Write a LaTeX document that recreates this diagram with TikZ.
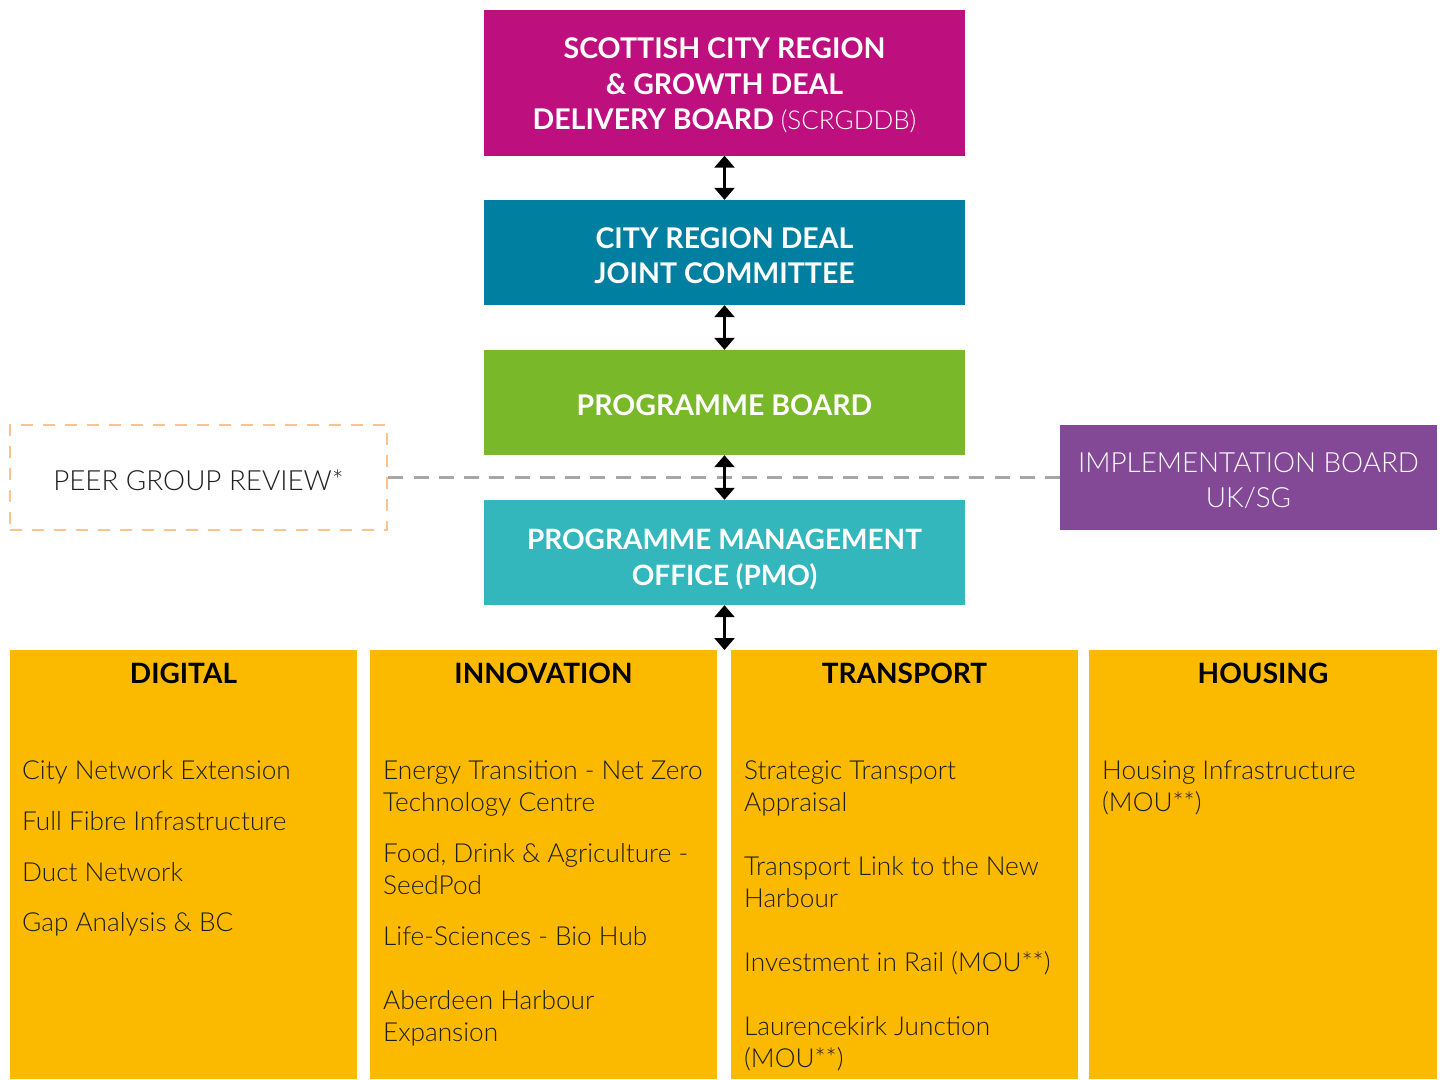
\documentclass[tikz,border=0pt]{standalone}
\usepackage{fontspec}
\setmainfont{Lato}
\IfFontExistsTF{Lato Light}{\newfontfamily\lightf{Lato Light}}{\newfontfamily\lightf{Lato}}
\usetikzlibrary{arrows.meta}
\definecolor{cMag}{HTML}{BD107E}
\definecolor{cTeal}{HTML}{007FA0}
\definecolor{cGreen}{HTML}{79B829}
\definecolor{cCyan}{HTML}{33B7BC}
\definecolor{cPurple}{HTML}{834996}
\definecolor{cYellow}{HTML}{FBB900}
\definecolor{cPeer}{HTML}{FDC28E}
\definecolor{cDash}{HTML}{A6A6A6}
\definecolor{cText}{HTML}{1E1E1E}
\begin{document}
\begin{tikzpicture}[x=1pt,y=-1pt,
  box/.style={inner sep=0pt, minimum width=481pt, minimum height=105pt},
  boxtext/.style={inner sep=0pt, align=center, text=white, font=\fontsize{28.5}{35.5}\selectfont\bfseries},
  sidebox/.style={inner sep=0pt, minimum width=377pt, minimum height=105pt},
  sidetext/.style={inner sep=0pt, align=center, font=\fontsize{27.8}{35}\selectfont\lightf},
  areabox/.style={inner sep=0pt, minimum height=429pt, fill=cYellow},
  head/.style={anchor=base, inner sep=0pt, text=black, font=\fontsize{28}{32}\selectfont\bfseries},
  item/.style={anchor=base west, inner sep=0pt, text=cText, font=\fontsize{26.2}{32}\selectfont\lightf},
  dbl/.style={line width=2.6pt, black, {Triangle[width=20pt,length=12pt]}-{Triangle[width=20pt,length=12pt]}},
  link/.style={line width=2.5pt, cDash, dash pattern=on 15pt off 10.27pt}
]
\useasboundingbox (0,0) rectangle (1443,1079);

% top column
\node[box, fill=cMag, minimum height=146pt] (scr) at (724.5,82.5) {};
\node[boxtext] (scrt) at ([yshift=-3pt]scr.center)
  {SCOTTISH CITY REGION\\\& GROWTH DEAL\\DELIVERY BOARD {\fontsize{26}{35.5}\selectfont\lightf\mdseries (SCRGDDB)}};
\node[box, fill=cTeal] (crd) at (724.5,252.5) {};
\node[boxtext] (crdt) at ([yshift=-3pt]crd.center) {CITY REGION DEAL\\JOINT COMMITTEE};
\node[box, fill=cGreen] (pb) at (724.5,402.5) {};
\node[boxtext] (pbt) at ([yshift=-3pt]pb.center) {PROGRAMME BOARD};
\node[box, fill=cCyan] (pmo) at (724.5,552.5) {};
\node[boxtext, font=\fontsize{28}{35.5}\selectfont\bfseries] (pmot) at ([yshift=-7pt]pmo.center) {PROGRAMME MANAGEMENT\\OFFICE (PMO)};

% side boxes
\node[sidebox, draw=cPeer, line width=2.5pt, dash pattern=on 12pt off 10pt] (peer) at (198.5,477.5) {};
\node[sidetext, text=cText] (peert) at ([yshift=-3pt]peer.center) {PEER GROUP REVIEW*};
\node[sidebox, fill=cPurple] (impl) at (1248.5,477.5) {};
\node[sidetext, text=white] (implt) at ([yshift=-3pt]impl.center) {IMPLEMENTATION BOARD\\UK/SG};

\draw[link] (peer.east) -- (impl.west);

% bottom area boxes
\node[areabox, minimum width=347pt] (dig) at (183.5,864.5) {};
\node[areabox, minimum width=347pt] (inn) at (543.5,864.5) {};
\node[areabox, minimum width=347pt] (tra) at (904.5,864.5) {};
\node[areabox, minimum width=348pt] (hou) at (1263,864.5) {};
\coordinate (areatop) at (724.5,650);

% arrows
\draw[dbl] (scr.south) -- (crd.north);
\draw[dbl] (crd.south) -- (pb.north);
\draw[dbl] (pb.south) -- (pmo.north);
\draw[dbl] (pmo.south) -- (areatop);

% headings
\node[head] (hdig) at (183.5,683) {DIGITAL};
\node[head] (hinn) at (543.5,683) {INNOVATION};
\node[head] (htra) at (904.5,683) {TRANSPORT};
\node[head] (hhou) at (1263,683) {HOUSING};

% items
\foreach \t/\yy [count=\i] in {{City Network Extension}/779, {Full Fibre Infrastructure}/830, {Duct Network}/881, {Gap Analysis \& BC}/931}
  \node[item, name=dig\i] at (22,\yy) {\t};
\foreach \t/\yy [count=\i] in {{Energy Transition - Net Zero}/779, {Technology Centre}/811, {Food, Drink \& Agriculture -}/862, {SeedPod}/894, {Life-Sciences - Bio Hub}/945, {Aberdeen Harbour}/1009, {Expansion}/1041}
  \node[item, name=inn\i] at (383,\yy) {\t};
\foreach \t/\yy [count=\i] in {{Strategic Transport}/779, {Appraisal}/811, {Transport Link to the New}/875, {Harbour}/907, {Investment in Rail (MOU**)}/971, {Laurencekirk Junction}/1035, {(MOU**)}/1067}
  \node[item, name=tra\i] at (744,\yy) {\t};
\foreach \t/\yy [count=\i] in {{Housing Infrastructure}/779, {(MOU**)}/811}
  \node[item, name=hou\i] at (1102,\yy) {\t};
\end{tikzpicture}
\end{document}
